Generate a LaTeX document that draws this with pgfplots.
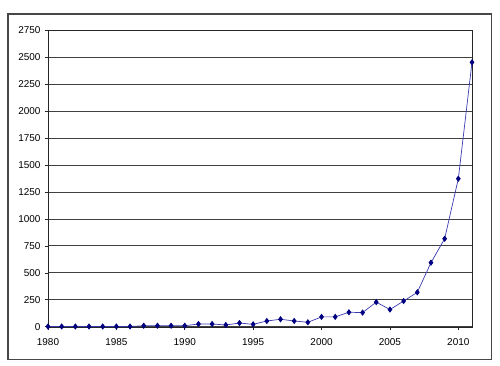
\documentclass[border=0pt]{standalone}
\usepackage{fontspec}
\setmainfont{Liberation Sans}
\usepackage{pgfplots}
\pgfplotsset{compat=1.18}
\definecolor{navy}{HTML}{000080}
\definecolor{lineblue}{HTML}{3A3AB0}
\begin{document}
\begin{tikzpicture}
\useasboundingbox (-48bp,-39.3bp) rectangle (452bp,326.7bp);
\draw[line width=1.5bp, black!72] (-40bp,-33bp) rectangle (443.5bp,312.5bp);
\begin{axis}[
  at={(0,0)}, anchor=south west,
  scale only axis, width=424bp, height=296.4bp,
  xmin=1980, xmax=2011, ymin=0, ymax=2750,
  xtick={1980,1985,...,2010},
  ytick={0,250,...,2750},
  axis line style={black!55},
  x axis line style={black!85},
  y axis line style={black!85},
  tick align=outside, xtick pos=bottom, ytick pos=left,
  major tick length=3.5bp,
  tick style={black!85, line width=0.6bp},
  ymajorgrids, grid style={black!75, line width=0.8bp},
  /pgf/number format/1000 sep={},
  /pgf/number format/assume math mode=true,
  tick label style={font=\fontsize{10}{12}\selectfont},
  yticklabel style={xshift=-0.5bp},
  xticklabel style={yshift=-4.5bp},
  clip=false,
]
\addplot[color=lineblue, line width=0.7bp, mark=diamond*, mark size=2.6bp,
  mark options={navy, fill=navy, draw=navy}] coordinates {
(1980,2) (1981,2) (1982,2) (1983,2) (1984,2) (1985,2) (1986,2)
(1987,9) (1988,9) (1989,9) (1990,9) (1991,25) (1992,25) (1993,16)
(1994,34) (1995,22) (1996,53) (1997,69) (1998,53) (1999,41)
(2000,91) (2001,91) (2002,134) (2003,131) (2004,228) (2005,159)
(2006,238) (2007,319) (2008,594) (2009,816) (2010,1373) (2011,2453)
};
\end{axis}
\end{tikzpicture}
\end{document}
